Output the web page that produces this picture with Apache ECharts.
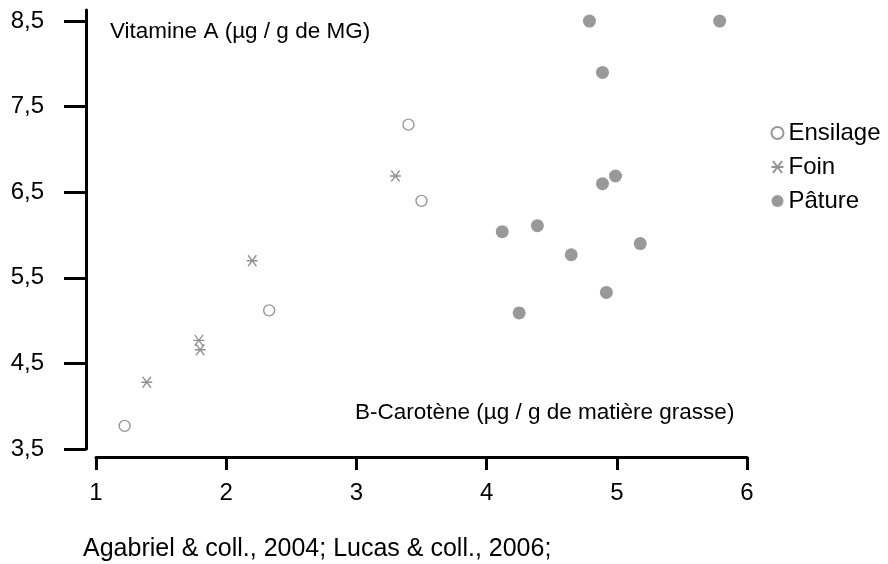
<!DOCTYPE html>
<html>
<head>
<meta charset="utf-8">
<script src="https://cdn.jsdelivr.net/npm/echarts@6/dist/echarts.min.js"></script>
<style>html,body{margin:0;padding:0;background:#fff}#c{width:888px;height:564px}</style>
</head>
<body>
<div id="c"></div>
<script>
var ensilageX = [1.22, 2.33, 3.40, 3.50];
var ensilageY = [3.77, 5.12, 7.29, 6.40];
var foinX = [1.39, 1.79, 1.80, 2.20, 3.30];
var foinY = [4.28, 4.77, 4.66, 5.70, 6.69];
var patureX = [4.79, 5.79, 4.89, 4.99, 4.89, 4.39, 4.12, 5.18, 4.65, 4.92, 4.25];
var patureY = [8.50, 8.50, 7.90, 6.69, 6.60, 6.11, 6.04, 5.90, 5.77, 5.33, 5.09];
var yTicks = [3.5, 4.5, 5.5, 6.5, 7.5, 8.5];
var xTicks = [1, 2, 3, 4, 5, 6];
var seriesNames = ['Ensilage', 'Foin', 'Pâture'];
var yTitle = 'Vitamine A (µg / g de MG)';
var xTitle = 'B-Carotène (µg / g de matière grasse)';
var sourceText = 'Agabriel & coll., 2004; Lucas & coll., 2006;';

function pairs(xs, ys) { return xs.map(function (x, i) { return [x, ys[i]]; }); }

var FONT = '"Liberation Sans", Arial, sans-serif';
var chart = echarts.init(document.getElementById('c'), null, {renderer: 'canvas'});
chart.setOption({
  animation: false,
  backgroundColor: '#fff',
  textStyle: {fontFamily: FONT},
  grid: {left: 96, right: 141, top: 10, bottom: 115, containLabel: false},
  title: [
    {text: yTitle, left: 110, top: 21, padding: 0, textStyle: {fontSize: 22.5, fontWeight: 'normal', color: '#000', fontFamily: FONT, lineHeight: 22}},
    {text: xTitle, left: 355, top: 402, padding: 0, textStyle: {fontSize: 22.5, fontWeight: 'normal', color: '#000', fontFamily: FONT, lineHeight: 22}},
    {text: sourceText, left: 83, top: 537, padding: 0, textStyle: {fontSize: 25, fontWeight: 'normal', color: '#000', fontFamily: FONT, lineHeight: 25}}
  ],
  legend: {
    orient: 'vertical', left: 769, top: 121, padding: 0,
    itemWidth: 12, itemHeight: 12, itemGap: 10,
    textStyle: {fontSize: 24, color: '#000', fontFamily: FONT, padding: [0, 0, 0, 0]},
    data: seriesNames
  },
  xAxis: {
    type: 'value', min: 1, max: 6, interval: 1, offset: 8,
    axisLine: {show: true, lineStyle: {color: '#000', width: 3}},
    axisTick: {show: true, length: 13, lineStyle: {color: '#000', width: 3}},
    axisLabel: {margin: 24, fontSize: 24, color: '#000', fontFamily: FONT,
      formatter: function (v) { return xTicks.indexOf(v) >= 0 ? String(v) : ''; }},
    splitLine: {show: false}
  },
  yAxis: {
    type: 'value', min: 3.5, max: 8.63, offset: 10,
    axisLine: {show: true, lineStyle: {color: '#000', width: 3}},
    axisTick: {show: true, length: 22, customValues: yTicks, lineStyle: {color: '#000', width: 3}},
    axisLabel: {margin: 42, fontSize: 24, color: '#000', fontFamily: FONT, customValues: yTicks,
      formatter: function (v) { return v.toFixed(1).replace('.', ','); }},
    splitLine: {show: false}
  },
  series: [
    {name: seriesNames[0], type: 'scatter', symbol: 'circle', symbolSize: 11,
      itemStyle: {color: '#fff', borderColor: '#808080', borderWidth: 1.4},
      data: pairs(ensilageX, ensilageY)},
    {name: seriesNames[1], type: 'scatter', symbol: 'path://M0 5L10 5M1.2 0L8.8 10M1.2 10L8.8 0', symbolSize: 11,
      itemStyle: {color: 'none', borderColor: '#777', borderWidth: 1.3},
      data: pairs(foinX, foinY)},
    {name: seriesNames[2], type: 'scatter', symbol: 'circle', symbolSize: 13,
      itemStyle: {color: '#808080'},
      data: pairs(patureX, patureY)}
  ]
});
</script>
</body>
</html>
